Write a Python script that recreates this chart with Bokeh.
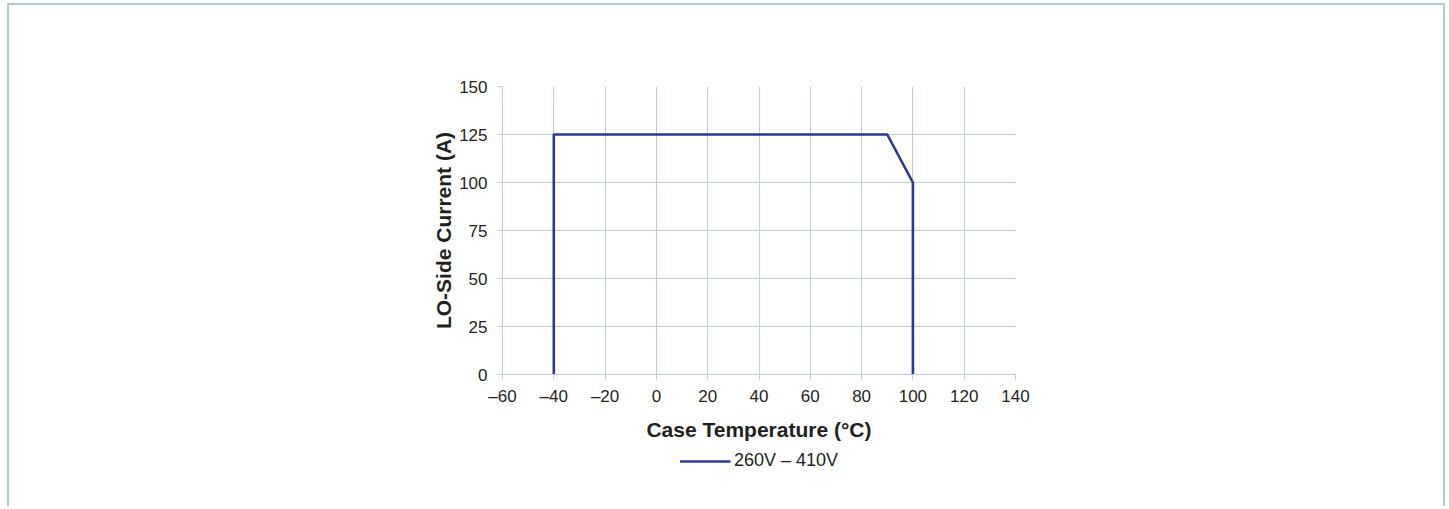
from bokeh.plotting import figure
from bokeh.layouts import column
from bokeh.models import FixedTicker, Legend, LegendItem
from bokeh.embed import file_html
from bokeh.resources import INLINE

# Safe operating area: LO-side current vs. case temperature
temp_c = [-40, -40, 90, 100, 100]
current_a = [0, 125, 125, 100, 0]
series_label = "260V \u2013 410V"

x_ticks = [-60, -40, -20, 0, 20, 40, 60, 80, 100, 120, 140]
y_ticks = [0, 25, 50, 75, 100, 125, 150]

def dash_label(v):
    return ("\u2013" + str(abs(v))) if v < 0 else str(v)

GRID = "#bccfd7"
LINE = "#2b3990"
FONT = "Liberation Sans"
PANEL = "#b3ccd4"
TEXT = "#231f20"

# main chart
fig = figure(frame_width=513, frame_height=288, output_backend="svg", toolbar_location=None,
             x_range=(-60, 140), y_range=(0, 150),
             min_border_left=495, min_border_right=430,
             min_border_top=83, min_border_bottom=71)
fig.outline_line_color = None
fig.background_fill_color = "white"
fig.border_fill_color = None

fig.line(temp_c, current_a, line_color=LINE, line_width=2.6)

for ax, ticks in ((fig.xaxis, x_ticks), (fig.yaxis, y_ticks)):
    ax.ticker = FixedTicker(ticks=ticks)
    ax.major_label_overrides = {t: dash_label(t) for t in ticks}
    ax.axis_line_color = GRID
    ax.major_tick_line_color = GRID
    ax.major_tick_out = 5
    ax.major_tick_in = 0
    ax.minor_tick_line_color = None
    ax.major_label_text_font = FONT
    ax.major_label_text_font_size = "17px"
    ax.major_label_text_color = TEXT
    ax.axis_label_text_font = FONT
    ax.axis_label_text_font_style = "bold"
    ax.axis_label_text_font_size = "21px"
    ax.axis_label_text_color = TEXT

fig.xaxis.axis_label = "Case Temperature (\u00b0C)"
fig.yaxis.axis_label = "LO-Side Current (A)"
fig.xaxis.major_label_standoff = 7
fig.yaxis.major_label_standoff = 10
fig.xaxis.axis_label_standoff = 9
fig.yaxis.axis_label_standoff = 1

fig.xgrid.ticker = FixedTicker(ticks=x_ticks)
fig.ygrid.ticker = FixedTicker(ticks=y_ticks)
fig.grid.grid_line_color = GRID
fig.grid.grid_line_width = 1

# legend strip under the chart, centred on the plot frame
key = figure(frame_width=513, frame_height=64, output_backend="svg", toolbar_location=None,
             x_range=(1000, 1001), y_range=(1000, 1001),
             x_axis_location=None, y_axis_location=None,
             min_border_left=495, min_border_right=430,
             min_border_top=0, min_border_bottom=0)
key.outline_line_color = None
key.background_fill_color = None
key.border_fill_color = None
for g in key.grid:
    g.visible = False
key_line = key.line(temp_c, current_a, line_color=LINE, line_width=2.6)

legend = Legend(items=[LegendItem(label=series_label, renderers=[key_line])],
                location="top_center", orientation="horizontal",
                label_text_font=FONT, label_text_font_size="18px",
                label_text_color=TEXT, glyph_width=51, label_standoff=4,
                border_line_color=None, background_fill_alpha=0, padding=0, margin=5)
key.add_layout(legend, "center")

# light panel frame around both, open at the bottom
p = column(fig, key, spacing=0,
           styles={"margin-left": "7px", "margin-top": "3px",
                   "background-color": "white",
                   "outline": f"2px solid {PANEL}", "outline-offset": "-2px",
                   "clip-path": "inset(0px 0px 3px 0px)"})

open("out.html", "w").write(file_html(p, INLINE))
